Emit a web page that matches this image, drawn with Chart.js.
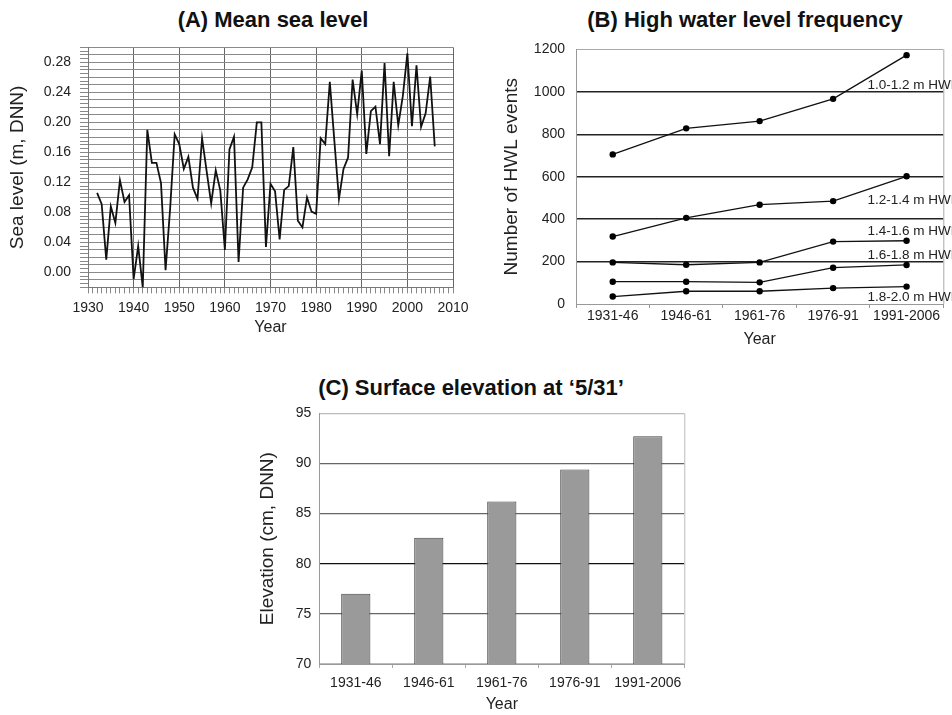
<!DOCTYPE html>
<html>
<head>
<meta charset="utf-8">
<script src="https://cdn.jsdelivr.net/npm/chart.js@4.4.1/dist/chart.umd.min.js"></script>
<style>
  body { margin: 0; background: #fff; width: 952px; height: 715px; overflow: hidden; position: relative; font-family: 'Liberation Sans', Arial, sans-serif; }
  .ttl { position: absolute; font-weight: bold; font-size: 22px; line-height: 26px; color: #111; transform: translateX(-50%); white-space: nowrap; }
  canvas { position: absolute; }
</style>
</head>
<body>
<div class="ttl" style="left:273px;top:7px">(A) Mean sea level</div>
<div class="ttl" style="left:745px;top:7px">(B) High water level frequency</div>
<div class="ttl" style="left:471px;top:375px">(C) Surface elevation at ‘5/31’</div>
<canvas id="cA" width="480" height="310" style="left:0;top:30px"></canvas>
<canvas id="cB" width="472" height="320" style="left:480px;top:30px"></canvas>
<canvas id="cC" width="480" height="340" style="left:230px;top:375px"></canvas>
<script>
/* ── DATA ── */
// (A) annual mean sea level, m DNN
var seaYears = [];
for (var yr = 1932; yr <= 2006; yr++) seaYears.push(yr);
var seaLevel = [
  0.106, 0.091, 0.017, 0.088, 0.066, 0.123, 0.094, 0.103, -0.009, 0.035,
  -0.020, 0.190, 0.146, 0.146, 0.119, 0.003, 0.085, 0.184, 0.171, 0.138,
  0.154, 0.113, 0.098, 0.179, 0.135, 0.092, 0.136, 0.109, 0.030, 0.164,
  0.181, 0.014, 0.113, 0.124, 0.140, 0.200, 0.200, 0.034, 0.118, 0.108,
  0.044, 0.110, 0.115, 0.167, 0.069, 0.060, 0.100, 0.081, 0.078, 0.179,
  0.171, 0.254, 0.175, 0.098, 0.138, 0.153, 0.257, 0.211, 0.269, 0.158,
  0.215, 0.221, 0.171, 0.279, 0.155, 0.254, 0.196, 0.235, 0.292, 0.195,
  0.276, 0.194, 0.212, 0.261, 0.168
];

// (B) HWL events per period
var periods = ['1931-46', '1946-61', '1961-76', '1976-91', '1991-2006'];
var hwlNames = ['1.0-1.2 m HWL', '1.2-1.4 m HWL', '1.4-1.6 m HWL', '1.6-1.8 m HWL', '1.8-2.0 m HWL'];
var hwl10 = [705, 828, 862, 967, 1173];
var hwl12 = [318, 406, 468, 485, 602];
var hwl14 = [196, 185, 196, 294, 298];
var hwl16 = [105, 105, 102, 171, 184];
var hwl18 = [35, 60, 60, 75, 82];
var hwlLabelAt = [1032, 487, 341, 231, 34];   // y value where each label sits

// (C) surface elevation, cm DNN
var elevation = [77.0, 82.6, 86.2, 89.4, 92.7];

/* ── COMMON ── */
Chart.defaults.font.family = "'Liberation Sans', Arial, sans-serif";
Chart.defaults.font.size = 14;
Chart.defaults.color = '#222';
Chart.defaults.animation = false;

function fixW(w) { return function (s) { s.width = w; }; }
function fixH(h) { return function (s) { s.height = h; }; }
function near(v, step) { return Math.abs(v / step - Math.round(v / step)) < 1e-6; }

var rightEdge = {
  id: 'rightEdge',
  afterDraw: function (chart, args, o) {
    var a = chart.chartArea, c = chart.ctx;
    c.save();
    c.strokeStyle = o.color || '#aaa';
    c.lineWidth = 1;
    c.beginPath();
    c.moveTo(a.right + 0.5, a.top);
    c.lineTo(a.right + 0.5, a.bottom);
    c.stroke();
    c.restore();
  }
};

/* ── (A) MEAN SEA LEVEL ── */
new Chart(document.getElementById('cA'), {
  type: 'line',
  data: {
    labels: seaYears,
    datasets: [{
      data: seaYears.map(function (y, i) { return { x: y, y: seaLevel[i] }; }),
      borderColor: '#111', borderWidth: 1.8, pointRadius: 0, tension: 0
    }]
  },
  options: {
    responsive: false,
    layout: { padding: { top: 15, right: 27, left: 0, bottom: 0 } },
    plugins: { legend: { display: false }, tooltip: { enabled: false } },
    scales: {
      x: {
        type: 'linear', min: 1930, max: 2010,
        afterFit: fixH(52.6),
        border: { color: '#777' },
        grid: {
          color: function (c) { return near(c.tick.value, 10) ? '#666' : 'rgba(0,0,0,0)'; },
          tickColor: '#888', tickLength: 6
        },
        ticks: {
          stepSize: 1, autoSkip: false, maxRotation: 0, padding: 6,
          callback: function (v) { return near(v, 10) ? String(Math.round(v)) : ''; }
        },
        title: { display: true, text: 'Year', font: { size: 16 }, padding: { top: 0, bottom: 2.4 } }
      },
      y: {
        min: -0.02, max: 0.30,
        afterFit: fixW(88),
        border: { color: '#777' },
        grid: {
          color: function (c) { return near(c.tick.value, 0.01) ? '#8a8a8a' : 'rgba(0,0,0,0)'; },
          tickColor: '#888', tickLength: 8
        },
        ticks: {
          stepSize: 0.005, autoSkip: false, padding: 9,
          callback: function (v) {
            return (v > -1e-6 && near(v, 0.04)) ? (Math.round(v * 100) / 100).toFixed(2) : '';
          }
        },
        title: { display: true, text: 'Sea level (m, DNN)', font: { size: 19 }, padding: { top: 6.6, bottom: 0 } }
      }
    }
  }
});

/* ── (B) HWL FREQUENCY ── */
var hwlSeries = [hwl10, hwl12, hwl14, hwl16, hwl18];

var hwlLabels = {
  id: 'hwlLabels',
  afterDraw: function (chart) {
    var c = chart.ctx, xs = chart.scales.x, ys = chart.scales.y;
    var x0 = xs.getPixelForValue(periods.length - 1) - 39;
    c.save();
    c.font = "13.5px 'Liberation Sans', Arial, sans-serif";
    c.fillStyle = '#222';
    c.textAlign = 'left';
    c.textBaseline = 'middle';
    hwlNames.forEach(function (n, i) { c.fillText(n, x0, ys.getPixelForValue(hwlLabelAt[i])); });
    c.restore();
  }
};

new Chart(document.getElementById('cB'), {
  type: 'line',
  data: {
    labels: periods,
    datasets: hwlSeries.map(function (s, i) {
      return {
        label: hwlNames[i], data: s,
        borderColor: '#111', borderWidth: 1.3, tension: 0,
        pointRadius: 3.2, pointBackgroundColor: '#000', pointBorderColor: '#000', pointBorderWidth: 0
      };
    })
  },
  options: {
    responsive: false,
    layout: { padding: { top: 19.3, right: 8.7, left: 0, bottom: 0 } },
    plugins: { legend: { display: false }, tooltip: { enabled: false }, rightEdge: { color: '#aaa' } },
    scales: {
      x: {
        offset: true,
        afterFit: fixH(46),
        border: { color: '#999' },
        grid: { offset: true, drawOnChartArea: false, tickColor: '#999', tickLength: 4 },
        ticks: { padding: 0, maxRotation: 0 },
        title: { display: true, text: 'Year', font: { size: 16 }, padding: { top: 0, bottom: 0.4 } }
      },
      y: {
        min: 0, max: 1200,
        afterFit: fixW(96),
        border: { color: '#999' },
        grid: {
          drawTicks: false,
          color: function (c) { var v = c.tick.value; return (v === 0 || v === 1200) ? '#aaa' : '#222'; },
          lineWidth: function (c) { var v = c.tick.value; return (v === 0 || v === 1200) ? 1 : 1.5; }
        },
        ticks: { stepSize: 200, padding: 11, callback: function (v) { return String(v); } },
        title: { display: true, text: 'Number of HWL events', font: { size: 19 }, padding: { top: 20.6, bottom: 0 } }
      }
    }
  },
  plugins: [rightEdge, hwlLabels]
});

/* ── (C) SURFACE ELEVATION ── */
new Chart(document.getElementById('cC'), {
  type: 'bar',
  data: {
    labels: periods,
    datasets: [{
      data: elevation,
      backgroundColor: '#9a9a9a', borderColor: '#444', borderWidth: 1,
      barPercentage: 0.4, categoryPercentage: 1.0
    }]
  },
  options: {
    responsive: false,
    layout: { padding: { top: 38.3, right: 25.7, left: 0, bottom: 0 } },
    plugins: { legend: { display: false }, tooltip: { enabled: false }, rightEdge: { color: '#bbb' } },
    scales: {
      x: {
        afterFit: fixH(51),
        border: { color: '#999' },
        grid: { offset: true, drawOnChartArea: false, tickColor: '#aaa', tickLength: 4 },
        ticks: { padding: 6.6, maxRotation: 0 },
        title: { display: true, text: 'Year', font: { size: 16 }, padding: { top: 0, bottom: 0.4 } }
      },
      y: {
        min: 70, max: 95,
        afterFit: fixW(89.3),
        border: { color: '#999' },
        grid: {
          drawTicks: false,
          color: function (c) {
            var v = c.tick.value;
            if (v === 80) return '#111';
            if (v === 95 || v === 70) return '#bbb';
            return '#666';
          },
          lineWidth: 1.3
        },
        ticks: { stepSize: 5, padding: 8 },
        title: { display: true, text: 'Elevation (cm, DNN)', font: { size: 19 }, padding: { top: 26.6, bottom: 0 } }
      }
    }
  },
  plugins: [rightEdge]
});
</script>
</body>
</html>
